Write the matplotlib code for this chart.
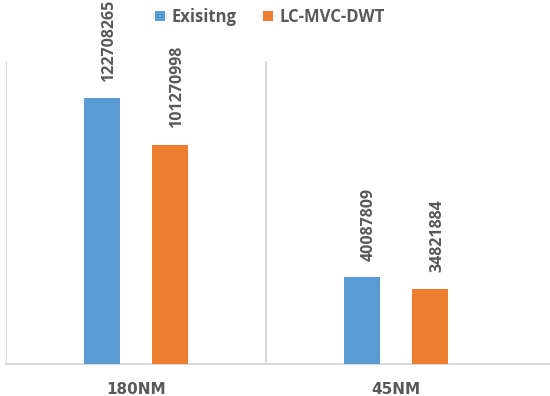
import numpy as np
import matplotlib.pyplot as plt

# bar chart data
categories = ["180NM", "45NM"]
series_names = ["Exisitng", "LC-MVC-DWT"]
existing = [122708265, 40087809]
lc_mvc_dwt = [101270998, 34821884]

colors = ["#5B9BD5", "#ED7D31"]
text_color = "#595959"
line_color = "#D9D9D9"

fig = plt.figure(figsize=(5.5, 3.96), dpi=100)
ax = fig.add_axes([6 / 550, 32 / 396, 544 / 550, 303 / 396])

x = np.arange(len(categories))
width = 0.1385
offset = 0.1308

for vals, name, col, sign in zip([existing, lc_mvc_dwt], series_names, colors, [-1, 1]):
    bars = ax.bar(x + sign * offset, vals, width, color=col, label=name, zorder=3)
    for b, v in zip(bars, vals):
        ax.annotate(str(v), (b.get_x() + b.get_width() / 2, v),
                    xytext=(5, 12), textcoords="offset points",
                    ha="center", va="bottom", rotation=90,
                    fontsize=11.5, fontweight="bold", family="Open Sans",
                    color=text_color)

ax.set_xlim(-0.5, -0.5 + 544 / 260)
ax.set_ylim(0, 140e6)

# category divider lines
for xv in [-0.5, 0.5]:
    ax.axvline(xv, color=line_color, lw=1.4, zorder=1)

for s in ["top", "left", "right"]:
    ax.spines[s].set_visible(False)
ax.spines["bottom"].set_color(line_color)
ax.spines["bottom"].set_linewidth(1.5)
ax.set_yticks([])
ax.set_xticks(x)
ax.set_xticklabels(categories, fontsize=11, fontweight="bold", color=text_color)
ax.tick_params(axis="x", length=0, pad=13)

fig.legend(loc="center", bbox_to_anchor=(270 / 550, 1 - 17 / 396), ncol=2,
           frameon=False, handlelength=0.6, handleheight=0.6, handletextpad=0.4,
           columnspacing=1.6, prop={"family": "Open Sans", "weight": "bold", "size": 12},
           labelcolor=text_color)

fig.savefig("out.png", dpi=100)
